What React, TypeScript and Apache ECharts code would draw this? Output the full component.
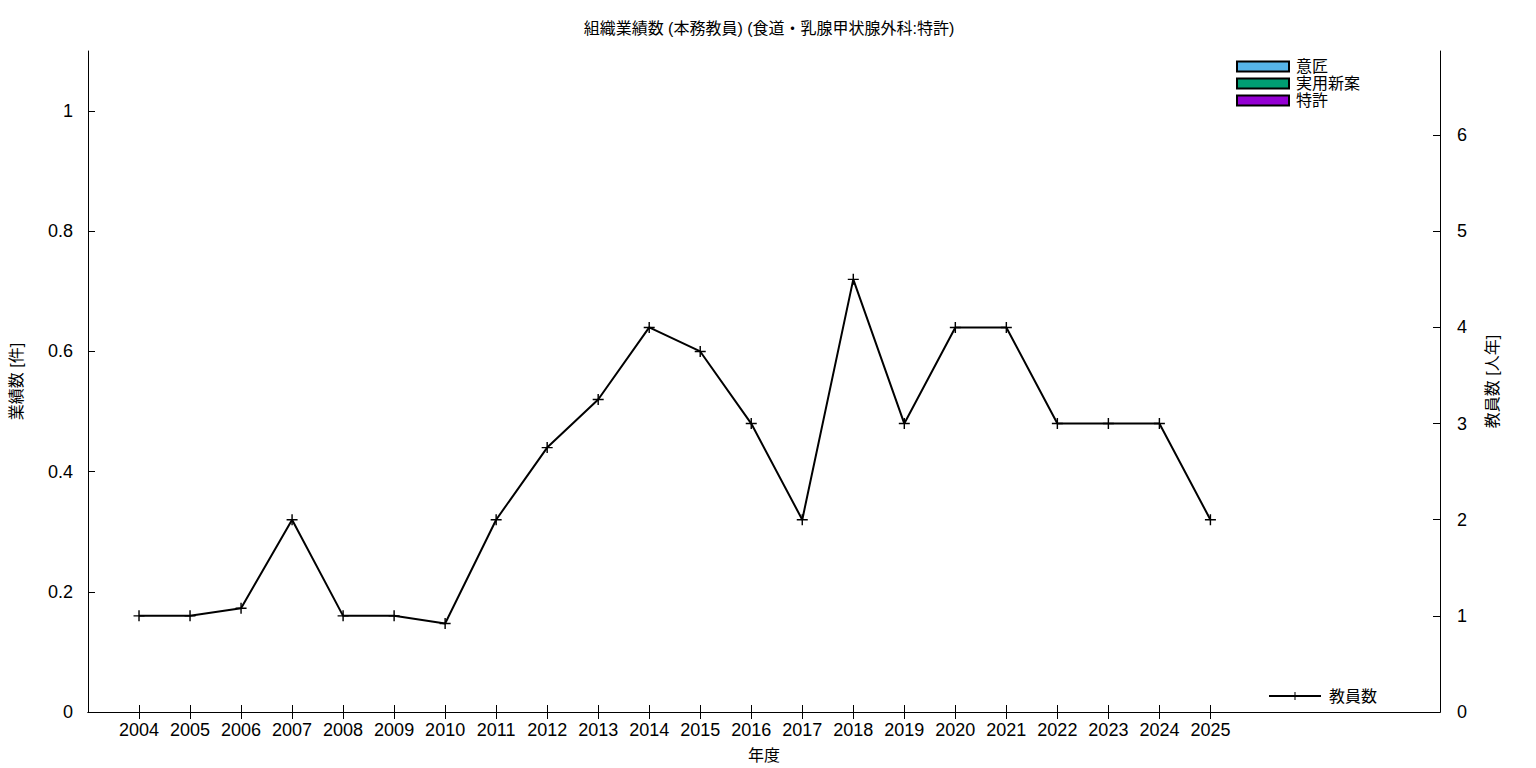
import React, { useEffect, useRef } from "react";
import * as echarts from "echarts";

const years = [2004, 2005, 2006, 2007, 2008, 2009, 2010, 2011, 2012, 2013, 2014, 2015, 2016, 2017, 2018, 2019, 2020, 2021, 2022, 2023, 2024, 2025];
const staff = [1, 1, 1.08, 2, 1, 1, 0.92, 2, 2.75, 3.25, 4, 3.75, 3, 2, 4.5, 3, 4, 4, 3, 3, 3, 2];
const design: number[] = [];
const utility: number[] = [];
const patent: number[] = [];
const leftTicks = [0, 0.2, 0.4, 0.6, 0.8, 1];
const rightTicks = [0, 1, 2, 3, 4, 5, 6];

const FONT = "'Liberation Sans', 'Noto Sans CJK JP', sans-serif";
const CROSS = "path://M-1,-0.13H1V0.13H-1Z M-0.13,-1H0.13V1H-0.13Z";

export default function App() {
  const ref = useRef<HTMLDivElement>(null);
  useEffect(() => {
    const chart = echarts.init(ref.current!, null, { renderer: "svg" });
    const axisLine = { show: true, lineStyle: { color: "#000", width: 1 } };
    chart.setOption({
      animation: false,
      backgroundColor: "#fff",
      textStyle: { fontFamily: FONT },
      title: {
        text: "組織業績数 (本務教員) (食道・乳腺甲状腺外科:特許)",
        left: 764,
        textAlign: "center",
        top: 15,
        textStyle: { fontSize: 16, fontWeight: "normal", color: "#000", fontFamily: FONT },
      },
      legend: [
        {
          data: ["意匠", "実用新案", "特許"],
          orient: "vertical",
          left: 1236,
          top: 58,
          icon: "rect",
          itemWidth: 52,
          itemHeight: 10,
          itemGap: 0,
          textStyle: { fontSize: 16, lineHeight: 17, color: "#000", padding: [0, 0, 0, 2] },
          padding: 0,
        },
        {
          data: ["教員数"],
          left: 1268,
          top: 688,
          itemWidth: 52,
          itemHeight: 10,
          textStyle: { fontSize: 16, color: "#000", padding: [0, 0, 0, 3] },
          padding: 0,
        },
      ],
      grid: { left: 88, right: 96, top: 51, bottom: 56, outerBoundsMode: "none", containLabel: false },
      xAxis: [
        {
          type: "value",
          min: 2003,
          max: 2029.5,
          interval: 1,
          name: "年度",
          nameLocation: "middle",
          nameGap: 35,
          nameTextStyle: { fontSize: 16, color: "#000" },
          axisLine,
          axisTick: { show: true, inside: true, length: 7, customValues: years, lineStyle: { color: "#000" } },
          axisLabel: { customValues: years, fontSize: 18, color: "#000", margin: 9, formatter: (v: number) => String(v) },
          splitLine: { show: false },
        },
        {
          type: "value",
          position: "top",
          min: 2003,
          max: 2029.5,
          interval: 1,
          axisLine,
          axisTick: { show: true, inside: true, length: 7, customValues: years, lineStyle: { color: "#000" } },
          axisLabel: { show: false },
          splitLine: { show: false },
        },
      ],
      yAxis: [
        {
          type: "value",
          min: 0,
          max: 1.1,
          name: "業績数 [件]",
          nameLocation: "middle",
          nameRotate: 90,
          nameGap: 64,
          nameTextStyle: { fontSize: 16, color: "#000" },
          axisLine,
          axisTick: { show: true, inside: true, length: 7, customValues: leftTicks, lineStyle: { color: "#000" } },
          axisLabel: { customValues: leftTicks, fontSize: 18, color: "#000", margin: 15, formatter: (v: number) => String(Math.round(v * 10) / 10) },
          splitLine: { show: false },
        },
        {
          type: "value",
          min: 0,
          max: 6.875,
          position: "right",
          name: "教員数 [人年]",
          nameLocation: "middle",
          nameRotate: 90,
          nameGap: 44,
          nameTextStyle: { fontSize: 16, color: "#000" },
          axisLine,
          axisTick: { show: true, inside: true, length: 7, customValues: rightTicks, lineStyle: { color: "#000" } },
          axisLabel: { customValues: rightTicks, fontSize: 18, color: "#000", margin: 17 },
          splitLine: { show: false },
        },
      ],
      series: [
        { name: "意匠", type: "bar", stack: "a", data: design, itemStyle: { color: "#56b4e9", borderColor: "#000", borderWidth: 1 } },
        { name: "実用新案", type: "bar", stack: "a", data: utility, itemStyle: { color: "#009e73", borderColor: "#000", borderWidth: 1 } },
        { name: "特許", type: "bar", stack: "a", data: patent, itemStyle: { color: "#9400d3", borderColor: "#000", borderWidth: 1 } },
        {
          name: "教員数",
          type: "line",
          yAxisIndex: 1,
          data: years.map((y, i) => [y, staff[i]]),
          lineStyle: { color: "#000", width: 2 },
          itemStyle: { color: "#000" },
          symbol: CROSS,
          symbolSize: 11,
          showSymbol: true,
        },
      ],
    });
    return () => chart.dispose();
  }, []);
  return <div ref={ref} style={{ width: 1536, height: 768, position: "absolute", left: 0, top: 0 }} />;
}
